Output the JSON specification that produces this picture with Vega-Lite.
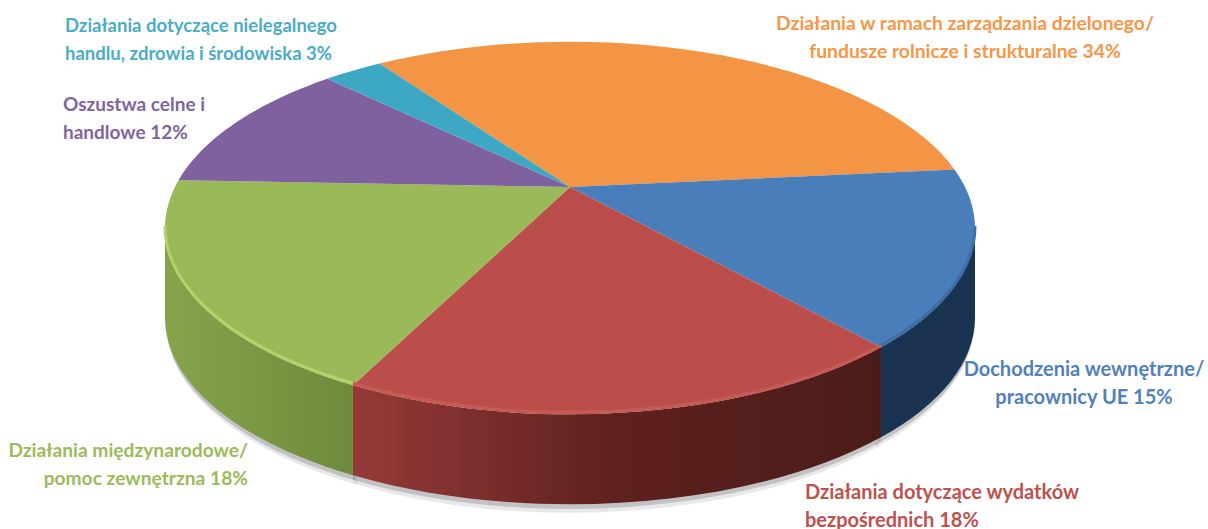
{
  "$schema": "https://vega.github.io/schema/vega-lite/v6.json",
  "width": 1208,
  "height": 529,
  "padding": 0,
  "autosize": "none",
  "background": "white",
  "config": {"view": {"stroke": null}},
  "data": {"values": [
    {"order": 1, "slice": "Zarządzanie dzielone", "share": 34, "label": "Działania w ramach zarządzania dzielonego/|fundusze rolnicze i strukturalne 34%"},
    {"order": 2, "slice": "Dochodzenia wewnętrzne", "share": 15, "label": "Dochodzenia wewnętrzne/|pracownicy UE 15%"},
    {"order": 3, "slice": "Wydatki bezpośrednie", "share": 18, "label": "Działania dotyczące wydatków|bezpośrednich 18%"},
    {"order": 4, "slice": "Działania międzynarodowe", "share": 18, "label": "Działania międzynarodowe/|pomoc zewnętrzna 18%"},
    {"order": 5, "slice": "Oszustwa celne", "share": 12, "label": "Oszustwa celne i|handlowe 12%"},
    {"order": 6, "slice": "Nielegalny handel", "share": 3, "label": "Działania dotyczące nielegalnego|handlu, zdrowia i środowiska 3%"}
  ]},
  "transform": [
    {"window": [{"op": "sum", "field": "share", "as": "cum"}], "sort": [{"field": "order"}]},
    {"calculate": "(144+3.6*(datum.cum-datum.share))*PI/180", "as": "p1"},
    {"calculate": "(144+3.6*datum.cum)*PI/180", "as": "p2"},
    {"calculate": "(2*atan2(1.3*sin(datum.p1/2),cos(datum.p1/2))+5*PI)%(2*PI)", "as": "t1"},
    {"calculate": "(2*atan2(1.3*sin(datum.p2/2),cos(datum.p2/2))+5*PI)%(2*PI)", "as": "t2"},
    {"calculate": "round(sin(datum.t1)*100000)/100000", "as": "x1"},
    {"calculate": "round(-0.46*cos(datum.t1)*100000)/100000", "as": "y1"},
    {"calculate": "round(sin(datum.t2)*100000)/100000", "as": "x2"},
    {"calculate": "round(-0.46*cos(datum.t2)*100000)/100000", "as": "y2"},
    {"calculate": "'M0,-0.1012L'+datum.x1+','+datum.y1+'A1,0.46 0 '+(((datum.t2-datum.t1+2*PI)%(2*PI))>PI?'1':'0')+' 1 '+datum.x2+','+datum.y2+'Z'", "as": "topPath"},
    {"calculate": "max(datum.t1,PI/2)", "as": "a1"},
    {"calculate": "min(datum.t2,3*PI/2)", "as": "a2"},
    {"calculate": "round(sin(datum.a1)*100000)/100000", "as": "sx1"},
    {"calculate": "round(-0.46*cos(datum.a1)*100000)/100000", "as": "sy1"},
    {"calculate": "round(sin(datum.a2)*100000)/100000", "as": "sx2"},
    {"calculate": "round(-0.46*cos(datum.a2)*100000)/100000", "as": "sy2"},
    {"calculate": "'M'+datum.sx1+','+datum.sy1+'A1,0.46 0 0 1 '+datum.sx2+','+datum.sy2+'L'+datum.sx2+','+(datum.sy2+0.222)+'A1,0.46 0 0 0 '+datum.sx1+','+(datum.sy1+0.222)+'Z'", "as": "sidePath"},
    {"calculate": "'M'+datum.sx1+','+datum.sy1+'A1,0.46 0 0 1 '+datum.sx2+','+datum.sy2", "as": "rimPath"}
  ],
  "layer": [
    {
      "transform": [{"filter": "datum.t1 < datum.t2 && datum.t1 < 3*PI/2 && datum.t2 > PI/2"}],
      "mark": {"type": "point", "filled": true, "fill": "#9a9a9f", "opacity": 0.22, "stroke": "#9a9a9f", "strokeWidth": 4, "strokeJoin": "round"},
      "encoding": {"x": {"value": 570}, "y": {"value": 238}, "size": {"value": 640000}, "shape": {"field": "sidePath", "type": "nominal", "scale": null, "legend": null}}
    },
    {
      "transform": [{"filter": "datum.t1 < datum.t2 && datum.t1 < 3*PI/2 && datum.t2 > PI/2"}],
      "mark": {"type": "point", "filled": true, "fill": "#8a8a90", "opacity": 0.4, "stroke": "#8a8a90", "strokeWidth": 2, "strokeJoin": "round"},
      "encoding": {"x": {"value": 570}, "y": {"value": 233}, "size": {"value": 650000}, "shape": {"field": "sidePath", "type": "nominal", "scale": null, "legend": null}}
    },
    {
      "transform": [{"filter": "datum.order == 2"}],
      "mark": {"type": "point", "filled": true, "opacity": 1, "strokeWidth": 0, "fill": "#1a3350"},
      "encoding": {"x": {"value": 570}, "y": {"value": 228}, "size": {"value": 656100}, "shape": {"field": "sidePath", "type": "nominal", "scale": null, "legend": null}}
    },
    {
      "transform": [{"filter": "datum.order == 3"}],
      "mark": {"type": "point", "filled": true, "opacity": 1, "strokeWidth": 0, "fill": {"gradient": "linear", "x1": 0, "x2": 1, "y1": 0, "y2": 0, "stops": [{"offset": 0, "color": "#963a38"}, {"offset": 0.5, "color": "#5e211e"}, {"offset": 1, "color": "#4a1c19"}]}},
      "encoding": {"x": {"value": 570}, "y": {"value": 228}, "size": {"value": 656100}, "shape": {"field": "sidePath", "type": "nominal", "scale": null, "legend": null}}
    },
    {
      "transform": [{"filter": "datum.order == 4"}],
      "mark": {"type": "point", "filled": true, "opacity": 1, "strokeWidth": 0, "fill": {"gradient": "linear", "x1": 0, "x2": 1, "y1": 0, "y2": 0, "stops": [{"offset": 0, "color": "#86a44b"}, {"offset": 1, "color": "#6e8a3c"}]}},
      "encoding": {"x": {"value": 570}, "y": {"value": 228}, "size": {"value": 656100}, "shape": {"field": "sidePath", "type": "nominal", "scale": null, "legend": null}}
    },
    {
      "mark": {"type": "point", "filled": true, "opacity": 1, "strokeWidth": 0},
      "encoding": {
        "x": {"value": 570},
        "y": {"value": 228},
        "size": {"value": 656100},
        "shape": {"field": "topPath", "type": "nominal", "scale": null, "legend": null},
        "color": {"field": "slice", "type": "nominal", "legend": null, "scale": {
          "domain": ["Zarządzanie dzielone", "Dochodzenia wewnętrzne", "Wydatki bezpośrednie", "Działania międzynarodowe", "Oszustwa celne", "Nielegalny handel"],
          "range": ["#f39545", "#4a7ebb", "#bb4d4a", "#9aba59", "#7f61a0", "#3ca8c4"]
        }}
      }
    },
    {
      "transform": [{"filter": "datum.t1 < datum.t2 && datum.t1 < 3*PI/2 && datum.t2 > PI/2"}],
      "mark": {"type": "point", "filled": false, "opacity": 1, "strokeWidth": 3},
      "encoding": {
        "x": {"value": 570},
        "y": {"value": 226},
        "size": {"value": 656100},
        "shape": {"field": "rimPath", "type": "nominal", "scale": null, "legend": null},
        "color": {"field": "slice", "type": "nominal", "legend": null, "scale": {
          "domain": ["Dochodzenia wewnętrzne", "Wydatki bezpośrednie", "Działania międzynarodowe"],
          "range": ["#3f6ea6", "#c85a56", "#b4d267"]
        }}
      }
    },
    {
      "transform": [{"filter": "datum.order <= 2"}],
      "mark": {"type": "text", "font": "Lato", "fontWeight": "bold", "lineBreak": "|", "lineHeight": 27.5, "align": "center", "baseline": "middle"},
      "encoding": {
        "x": {"field": "order", "type": "quantitative", "axis": null, "scale": {"domain": [1, 2, 3, 4, 5, 6], "range": [965, 1084, 805, 248, 63, 65]}},
        "y": {"field": "order", "type": "quantitative", "axis": null, "scale": {"domain": [1, 2, 3, 4, 5, 6], "range": [24, 370, 493, 451, 105, 26]}},
        "size": {"field": "order", "type": "quantitative", "legend": null, "scale": {"domain": [1, 2, 3, 4, 5, 6], "range": [19.3, 20, 20, 19.2, 19, 18.5]}},
        "text": {"field": "label", "type": "nominal"},
        "color": {"field": "slice", "type": "nominal", "legend": null, "scale": {
          "domain": ["Zarządzanie dzielone", "Dochodzenia wewnętrzne", "Wydatki bezpośrednie", "Działania międzynarodowe", "Oszustwa celne", "Nielegalny handel"],
          "range": ["#f79646", "#4f81bd", "#c0504d", "#9bbb59", "#8064a2", "#4bacc6"]
        }}
      }
    },
    {
      "transform": [{"filter": "datum.order == 3 || datum.order >= 5"}],
      "mark": {"type": "text", "font": "Lato", "fontWeight": "bold", "lineBreak": "|", "lineHeight": 27.5, "align": "left", "baseline": "middle"},
      "encoding": {
        "x": {"field": "order", "type": "quantitative", "axis": null, "scale": {"domain": [1, 2, 3, 4, 5, 6], "range": [965, 1084, 805, 248, 63, 65]}},
        "y": {"field": "order", "type": "quantitative", "axis": null, "scale": {"domain": [1, 2, 3, 4, 5, 6], "range": [24, 370, 493, 451, 105, 26]}},
        "size": {"field": "order", "type": "quantitative", "legend": null, "scale": {"domain": [1, 2, 3, 4, 5, 6], "range": [19.3, 20, 20, 19.2, 19, 18.5]}},
        "text": {"field": "label", "type": "nominal"},
        "color": {"field": "slice", "type": "nominal", "legend": null, "scale": {
          "domain": ["Zarządzanie dzielone", "Dochodzenia wewnętrzne", "Wydatki bezpośrednie", "Działania międzynarodowe", "Oszustwa celne", "Nielegalny handel"],
          "range": ["#f79646", "#4f81bd", "#c0504d", "#9bbb59", "#8064a2", "#4bacc6"]
        }}
      }
    },
    {
      "transform": [{"filter": "datum.order == 4"}],
      "mark": {"type": "text", "font": "Lato", "fontWeight": "bold", "lineBreak": "|", "lineHeight": 27.5, "align": "right", "baseline": "middle"},
      "encoding": {
        "x": {"field": "order", "type": "quantitative", "axis": null, "scale": {"domain": [1, 2, 3, 4, 5, 6], "range": [965, 1084, 805, 248, 63, 65]}},
        "y": {"field": "order", "type": "quantitative", "axis": null, "scale": {"domain": [1, 2, 3, 4, 5, 6], "range": [24, 370, 493, 451, 105, 26]}},
        "size": {"field": "order", "type": "quantitative", "legend": null, "scale": {"domain": [1, 2, 3, 4, 5, 6], "range": [19.3, 20, 20, 19.2, 19, 18.5]}},
        "text": {"field": "label", "type": "nominal"},
        "color": {"field": "slice", "type": "nominal", "legend": null, "scale": {
          "domain": ["Zarządzanie dzielone", "Dochodzenia wewnętrzne", "Wydatki bezpośrednie", "Działania międzynarodowe", "Oszustwa celne", "Nielegalny handel"],
          "range": ["#f79646", "#4f81bd", "#c0504d", "#9bbb59", "#8064a2", "#4bacc6"]
        }}
      }
    }
  ],
  "resolve": {"scale": {"color": "independent"}}
}
